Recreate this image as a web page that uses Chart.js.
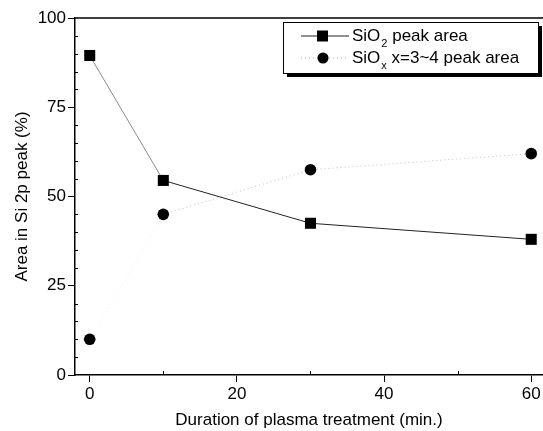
<!DOCTYPE html>
<html>
<head>
<meta charset="utf-8">
<script src="https://cdn.jsdelivr.net/npm/chart.js@4/dist/chart.umd.min.js"></script>
<style>
  html, body { margin: 0; padding: 0; background: #fff; }
  #wrap { width: 543px; height: 431px; }
</style>
</head>
<body>
<div id="wrap"><canvas id="xpsChart" width="543" height="431"></canvas></div>
<script>
// treatment time (min) and peak area shares (%)
const durations = [0, 10, 30, 60];
const sio2Area = [89.5, 54.5, 42.5, 38];
const sioxArea = [10, 45, 57.5, 62];
const xTicks = [0, 20, 40, 60];
const yTicks = [0, 25, 50, 75, 100];

const FONT = '"Liberation Sans", Arial, sans-serif';

function toPoints(xs, ys) {
    return xs.map((x, i) => ({ x: x, y: ys[i] }));
}

// frame top line, minor ticks and the boxed legend with drop shadow
const decorations = {
    id: 'decorations',
    afterDraw(chart) {
        const ctx = chart.ctx;
        const area = chart.chartArea;
        const xs = chart.scales.x;
        const ys = chart.scales.y;
        ctx.save();
        ctx.strokeStyle = '#000';
        ctx.lineWidth = 1.5;
        ctx.beginPath();
        ctx.moveTo(area.left, area.top);
        ctx.lineTo(area.right, area.top);
        ctx.stroke();

        // minor ticks
        ctx.lineWidth = 1;
        for (let v = 5; v < 100; v += 5) {
            if (v % 25 === 0) continue;
            const py = Math.round(ys.getPixelForValue(v)) + 0.5;
            ctx.beginPath();
            ctx.moveTo(area.left, py);
            ctx.lineTo(area.left + 3, py);
            ctx.stroke();
        }
        for (let v = 10; v <= 50; v += 20) {
            const px = Math.round(xs.getPixelForValue(v)) + 0.5;
            ctx.beginPath();
            ctx.moveTo(px, area.bottom);
            ctx.lineTo(px, area.bottom - 4);
            ctx.stroke();
        }

        // legend box
        const bx = 283, by = 22, bw = 255, bh = 51;
        ctx.fillStyle = '#000';
        ctx.fillRect(bx + 4, by + 4, bw, bh);
        ctx.fillStyle = '#fff';
        ctx.fillRect(bx, by, bw, bh);
        ctx.strokeStyle = '#000';
        ctx.lineWidth = 1;
        ctx.strokeRect(bx + 0.5, by + 0.5, bw, bh);

        const entries = [
            { ds: chart.data.datasets[0], color: '#222', y: by + 14, sub: '2', rest: ' peak area' },
            { ds: chart.data.datasets[1], color: '#aaa', y: by + 36, sub: 'x', rest: ' x=3~4 peak area' }
        ];
        entries.forEach(e => {
            ctx.strokeStyle = e.color;
            ctx.lineWidth = e.ds.borderWidth;
            ctx.setLineDash(e.ds.borderDash || []);
            ctx.beginPath();
            ctx.moveTo(bx + 18, e.y);
            ctx.lineTo(bx + 66, e.y);
            ctx.stroke();
            ctx.setLineDash([]);
            ctx.fillStyle = '#000';
            if (e.ds.pointStyle === 'rect') {
                ctx.fillRect(bx + 34, e.y - 5.5, 11, 11);
            } else {
                ctx.beginPath();
                ctx.arc(bx + 40, e.y, 5.5, 0, Math.PI * 2);
                ctx.fill();
            }
            let tx = bx + 69;
            ctx.textBaseline = 'middle';
            ctx.textAlign = 'left';
            ctx.font = '17px ' + FONT;
            ctx.fillText('SiO', tx, e.y);
            tx += ctx.measureText('SiO').width;
            ctx.font = '11px ' + FONT;
            ctx.fillText(e.sub, tx + 1, e.y + 8);
            tx += ctx.measureText(e.sub).width + 1;
            ctx.font = '17px ' + FONT;
            ctx.fillText(e.rest, tx, e.y);
        });
        ctx.restore();
    }
};

new Chart(document.getElementById('xpsChart'), {
    type: 'scatter',
    data: {
        datasets: [
            {
                label: 'SiO2 peak area',
                data: toPoints(durations, sio2Area),
                showLine: true,
                borderColor: '#222',
                borderWidth: 1,
                segment: { borderColor: c => c.p0DataIndex === 0 ? '#8a8a8a' : '#222' },
                backgroundColor: '#000',
                pointStyle: 'rect',
                pointRadius: 7.8,
                pointBorderWidth: 0
            },
            {
                label: 'SiOx x=3~4 peak area',
                data: toPoints(durations, sioxArea),
                showLine: true,
                borderColor: '#bdbdbd',
                borderWidth: 1,
                borderDash: [1, 3],
                segment: { borderColor: c => c.p0DataIndex === 0 ? '#ececec' : '#bdbdbd' },
                backgroundColor: '#000',
                pointStyle: 'circle',
                pointRadius: 5.8,
                pointBorderWidth: 0
            }
        ]
    },
    options: {
        responsive: false,
        animation: false,
        layout: { autoPadding: false, padding: { top: 18, right: 0, left: 0, bottom: 0 } },
        plugins: { legend: { display: false }, tooltip: { enabled: false } },
        scales: {
            x: {
                type: 'linear',
                min: -2,
                max: 61.6,
                afterBuildTicks: s => { s.ticks = xTicks.map(v => ({ value: v })); },
                afterFit: s => { s.height = 56; },
                grid: { display: true, drawOnChartArea: false, drawTicks: true, tickLength: 7, color: '#000', lineWidth: 1 },
                border: { display: true, color: '#000', width: 1.5 },
                ticks: { color: '#000', font: { family: FONT, size: 17 }, padding: 2, maxRotation: 0 },
                title: { display: true, text: 'Duration of plasma treatment (min.)', color: '#000', font: { family: FONT, size: 17 }, padding: { top: 6, bottom: 0 } }
            },
            y: {
                min: 0,
                max: 100,
                afterBuildTicks: s => { s.ticks = yTicks.map(v => ({ value: v })); },
                afterFit: s => { s.width = 75; },
                grid: { display: true, drawOnChartArea: false, drawTicks: true, tickLength: 7, color: '#000', lineWidth: 1 },
                border: { display: true, color: '#000', width: 1.5 },
                ticks: { color: '#000', font: { family: FONT, size: 17 }, padding: 2 },
                title: { display: true, text: 'Area in Si 2p peak (%)', color: '#000', font: { family: FONT, size: 17 }, padding: { top: 12, bottom: 4 } }
            }
        }
    },
    plugins: [decorations]
});
</script>
</body>
</html>
